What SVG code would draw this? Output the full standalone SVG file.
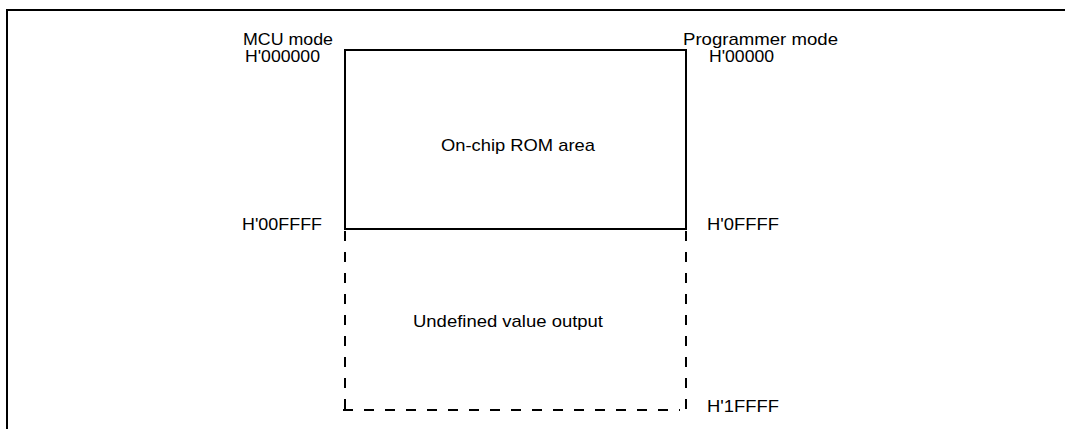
<svg xmlns="http://www.w3.org/2000/svg" width="1065" height="429" viewBox="0 0 1065 429">
<style>
.t{font-family:"Liberation Sans",Arial,sans-serif;font-size:17px;fill:#000}
.solid{fill:none;stroke:#000;stroke-width:2}
.dash{fill:none;stroke:#000;stroke-width:2;stroke-dasharray:10 11}
</style>
<rect x="0" y="0" width="1065" height="429" fill="#fff"/>
<rect x="7" y="10" width="1075" height="430" fill="none" stroke="#000" stroke-width="2"/>
<g id="rom">
<rect class="solid" x="345" y="50" width="341" height="179"/>
<text class="t" x="441" y="151" textLength="154" lengthAdjust="spacingAndGlyphs">On-chip ROM area</text>
</g>
<g id="undefined">
<path class="dash" d="M345 231 V410"/>
<path class="dash" d="M343 410 H680"/>
<path class="dash" d="M686 231 V411"/>
<text class="t" x="413" y="327" textLength="190" lengthAdjust="spacingAndGlyphs">Undefined value output</text>
</g>
<g id="labels">
<text class="t" x="243" y="45" textLength="90" lengthAdjust="spacingAndGlyphs">MCU mode</text>
<text class="t" x="245" y="62" textLength="75" lengthAdjust="spacingAndGlyphs">H'000000</text>
<text class="t" x="683" y="45" textLength="155" lengthAdjust="spacingAndGlyphs">Programmer mode</text>
<text class="t" x="709" y="62" textLength="65" lengthAdjust="spacingAndGlyphs">H'00000</text>
<text class="t" x="242" y="230" textLength="80" lengthAdjust="spacingAndGlyphs">H'00FFFF</text>
<text class="t" x="707" y="230" textLength="72" lengthAdjust="spacingAndGlyphs">H'0FFFF</text>
<text class="t" x="707" y="412" textLength="72" lengthAdjust="spacingAndGlyphs">H'1FFFF</text>
</g>
</svg>
